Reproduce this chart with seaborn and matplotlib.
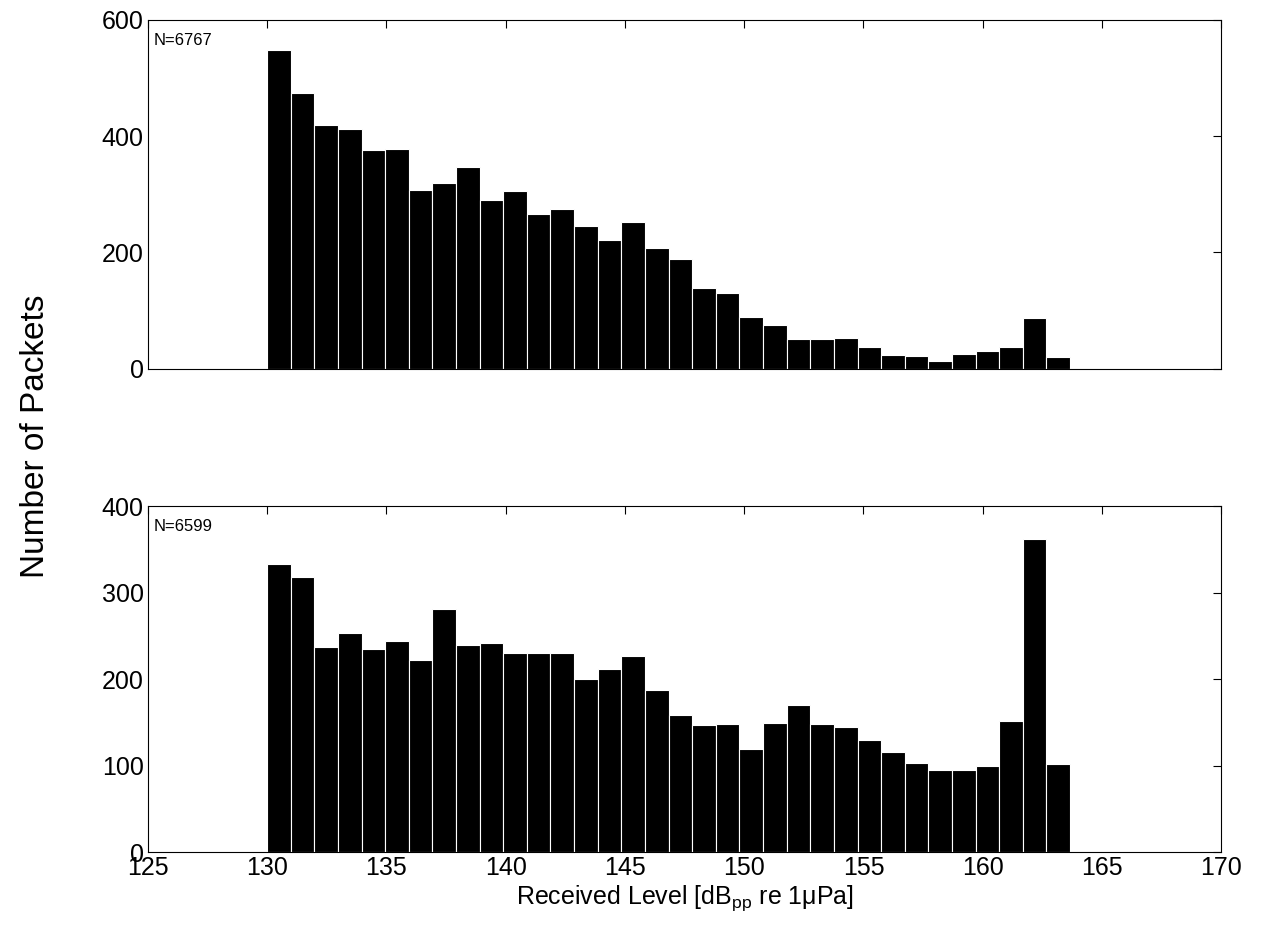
import numpy as np
import pandas as pd
import matplotlib
matplotlib.use('Agg')
import matplotlib.pyplot as plt
import seaborn as sns

# bin layout: 34 bins starting at 130 dB
bin_start = 130.0
bin_width = 0.99
counts_top = [548, 474, 420, 412, 376, 378, 308, 320, 347, 290, 306, 266, 274, 245,
              222, 253, 207, 189, 139, 131, 89, 76, 51, 51, 53, 38, 23, 22, 14, 25,
              30, 38, 88, 20]
counts_bottom = [333, 318, 237, 254, 235, 244, 222, 281, 240, 242, 230, 230, 230, 200,
                 212, 227, 187, 159, 147, 148, 119, 149, 170, 148, 145, 130, 116, 103,
                 95, 95, 100, 152, 362, 102]
labels = ['N=6767', 'N=6599']
ylims = [600, 400]
yticks = [[0, 200, 400, 600], [0, 100, 200, 300, 400]]

sns.set_style('white')
plt.rcParams['font.family'] = ['Liberation Sans', 'DejaVu Sans']
plt.rcParams['text.color'] = 'black'
plt.rcParams['xtick.color'] = 'black'
plt.rcParams['ytick.color'] = 'black'
plt.rcParams['axes.labelcolor'] = 'black'

edges = bin_start + bin_width * np.arange(len(counts_top) + 1)
centers = (edges[:-1] + edges[1:]) / 2

fig = plt.figure(figsize=(12.63, 9.48), dpi=100)
ax1 = fig.add_axes([0.117, 0.611, 0.850, 0.368])
ax2 = fig.add_axes([0.117, 0.101, 0.850, 0.365])

for ax, counts, lab, ylim, yt in zip([ax1, ax2], [counts_top, counts_bottom], labels, ylims, yticks):
    df = pd.DataFrame({'level': centers, 'n': counts})
    sns.histplot(data=df, x='level', weights='n', bins=list(edges), color='black',
                 edgecolor='white', linewidth=0.8, alpha=1, ax=ax)
    ax.set_xlim(125, 170)
    ax.set_ylim(0, ylim)
    ax.set_yticks(yt)
    ax.set_xticks(np.arange(125, 171, 5))
    ax.set_ylabel('')
    ax.set_xlabel('')
    ax.tick_params(direction='in', labelsize=18, length=6, top=True, right=True, pad=3)
    for s in ax.spines.values():
        s.set_color('black')
        s.set_linewidth(0.8)
    ax.text(0.005, 0.94, lab, transform=ax.transAxes, fontsize=12, va='center')

ax1.set_xticklabels([])
ax2.set_xlabel('Received Level [dB$_{\\mathregular{pp}}$ re 1\u03bcPa]', fontsize=18, labelpad=2)
fig.text(0.028, 0.54, 'Number of Packets', rotation=90, fontsize=24, va='center', ha='center')

fig.savefig('out.png', dpi=100)
